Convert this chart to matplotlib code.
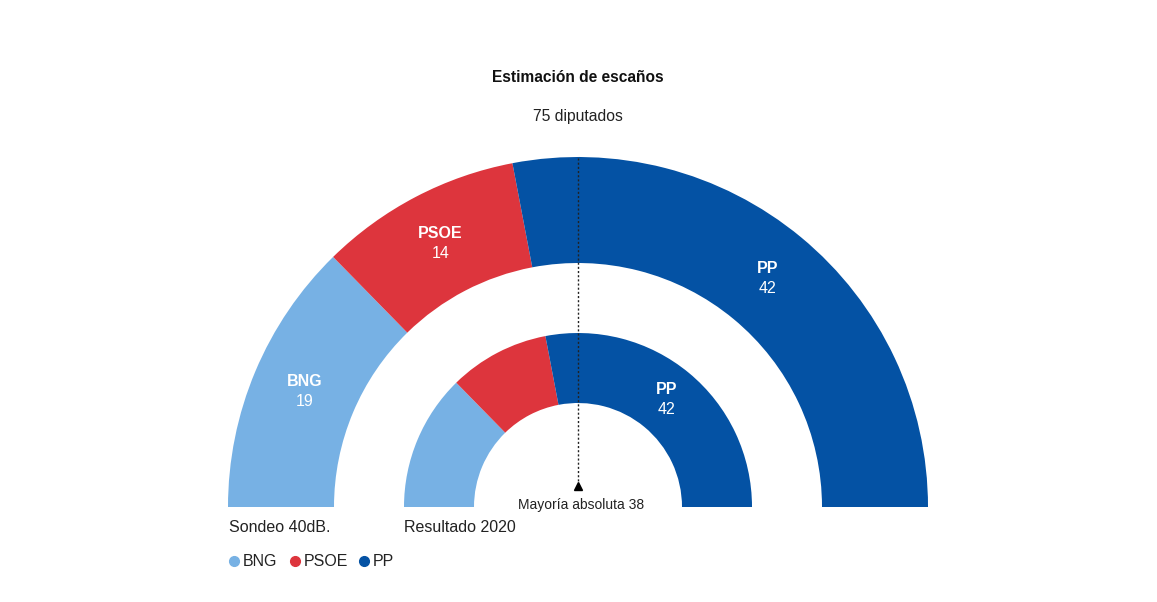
import numpy as np
import matplotlib
matplotlib.use('Agg')
import matplotlib.pyplot as plt
from matplotlib.patches import Wedge

plt.rcParams['font.family'] = ['Liberation Sans Narrow', 'Liberation Sans', 'DejaVu Sans']

parties = ['BNG', 'PSOE', 'PP']
seats_sondeo = [19, 14, 42]
seats_2020 = [19, 14, 42]
colors = ['#77b1e4', '#dd353d', '#0452a4']
total = 75
majority = 38

fig = plt.figure(figsize=(11.57, 6.02), dpi=100)
ax = fig.add_axes([0, 0, 1, 1])
ax.set_xlim(0, 1157)
ax.set_ylim(602, 0)
ax.set_aspect('equal')
ax.axis('off')

cx, cy = 578, 507


def draw_ring(seats, r_out, r_in, label_idx):
    start = 180.0
    for i, s in enumerate(seats):
        span = s / total * 180.0
        # y axis is inverted, so angles go the other way
        th1, th2 = 180 + (180 - start), 180 + (180 - start) + span
        ax.add_patch(Wedge((cx, cy), r_out, th1, th2, width=r_out - r_in,
                           facecolor=colors[i], edgecolor='none'))
        if i in label_idx:
            mid = np.radians(start - span / 2)
            rm = (r_out + r_in) / 2
            x = cx + rm * np.cos(mid)
            y = cy - rm * np.sin(mid)
            ax.text(x, y - 10, parties[i], color='white', fontsize=11.5,
                    fontweight='bold', ha='center', va='center')
            ax.text(x, y + 10, str(s), color='white', fontsize=11.5,
                    ha='center', va='center')
        start -= span


draw_ring(seats_sondeo, 350, 244, [0, 1, 2])
draw_ring(seats_2020, 174, 104, [2])

# mayoria absoluta
ax.plot([cx, cx], [158, 482], color='#222222', lw=1, ls=(0, (1.5, 1.5)))
ax.plot(cx, 486, marker='^', color='black', markersize=6)
ax.text(cx + 3, 505, 'Mayoría absoluta %d' % majority, fontsize=10,
        ha='center', va='center', color='#222222')

ax.text(cx, 78, 'Estimación de escaños', fontsize=11.2, fontweight='bold',
        ha='center', va='center', color='#111111')
ax.text(cx, 117, '%d diputados' % total, fontsize=11.3, ha='center',
        va='center', color='#222222')

ax.text(229, 527, 'Sondeo 40dB.', fontsize=11.5, ha='left', va='center', color='#222222')
ax.text(404, 527, 'Resultado 2020', fontsize=11.5, ha='left', va='center', color='#222222')

lx = [234, 295, 364]
for i, p in enumerate(parties):
    ax.plot(lx[i], 561, 'o', color=colors[i], markersize=7)
    ax.text(lx[i] + 9, 561, p, fontsize=11.5, ha='left', va='center', color='#222222')

fig.savefig('out.png', dpi=100)
